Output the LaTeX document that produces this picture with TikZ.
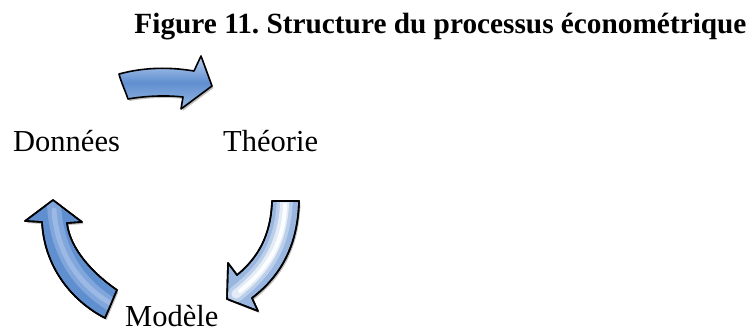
\documentclass[tikz,border=0pt]{standalone}
\usepackage{fontspec}
\setmainfont{Liberation Serif}
\usetikzlibrary{shadows}
\frenchspacing
\definecolor{arrowblue}{RGB}{96,143,208}
\definecolor{arrowlight}{RGB}{188,210,240}
\tikzset{
  bigarrow/.style={draw=black, line width=1.6pt, line join=round,
    drop shadow={shadow xshift=1.5pt, shadow yshift=-2pt, opacity=0.25, fill=black}},
  outline/.style={draw=black, line width=1.6pt, line join=round},
  lbl/.style={anchor=base west, inner sep=0pt, font=\fontsize{30.5}{36}\selectfont},
}
\def\toppath{(119,74) .. controls (145,67) and (170,67) .. (194,71)
  -- (201,56) -- (212,86) -- (181,109) -- (183,97)
  .. controls (165,95) and (145,96) .. (128,99)
  .. controls (125,90) and (121,82) .. cycle}
\def\downpath{(272,201) -- (299,201)
  .. controls (298,245) and (281,276) .. (252,298)
  -- (258,311) -- (227,299) -- (228,263) -- (237,275)
  .. controls (258,258) and (271,235) .. cycle}
\def\leftpath{(53,200) -- (82,222) -- (67,223)
  .. controls (70,250) and (95,275) .. (117,290)
  .. controls (113,299) and (109,309) .. (105,318)
  .. controls (70,300) and (44,265) .. (42,222)
  -- (25,221) -- cycle}
\begin{document}
\begin{tikzpicture}[x=1pt,y=-1pt]
\useasboundingbox (0,0) rectangle (755,332);
\fill[white] (0,0) rectangle (755,332);
% title
\node[anchor=base, inner sep=0pt, font=\fontsize{29.3}{35}\selectfont\bfseries] (title) at (440.5,33)
  {Figure 11. Structure du processus économétrique};
% labels
\node[lbl] (donnees) at (13,151) {Données};
\node[lbl] (theorie) at (223,151) {Théorie};
\node[lbl] (modele) at (125,326) {Modèle};
% top arrow (Données -> Théorie)
\path[bigarrow, top color=arrowlight, bottom color=arrowlight!60!arrowblue, middle color=arrowblue] \toppath;
% down arrow (Théorie -> Modèle)
\path[bigarrow, fill=arrowblue!65!white] \downpath;
\begin{scope}
  \clip \downpath;
  \draw[white, line width=16pt, opacity=0.35, line cap=round] (285,195) .. controls (284,240) and (270,267) .. (236,294);
  \draw[white, line width=9pt, opacity=0.6, line cap=round] (285,195) .. controls (284,240) and (270,267) .. (236,294);
  \draw[white, line width=4pt, opacity=0.9, line cap=round] (285,205) .. controls (284,240) and (270,267) .. (240,291);
\end{scope}
\path[outline] \downpath;
% up-left arrow (Modèle -> Données)
\path[bigarrow, fill=arrowblue] \leftpath;
\begin{scope}
  \clip \leftpath;
  \draw[arrowlight, line width=14pt, opacity=0.35, line cap=round] (54,205) .. controls (57,255) and (80,285) .. (112,305);
  \draw[arrowlight, line width=5pt, opacity=0.45, line cap=round] (54,210) .. controls (57,255) and (80,285) .. (110,303);
\end{scope}
\path[outline] \leftpath;
\end{tikzpicture}
\end{document}
